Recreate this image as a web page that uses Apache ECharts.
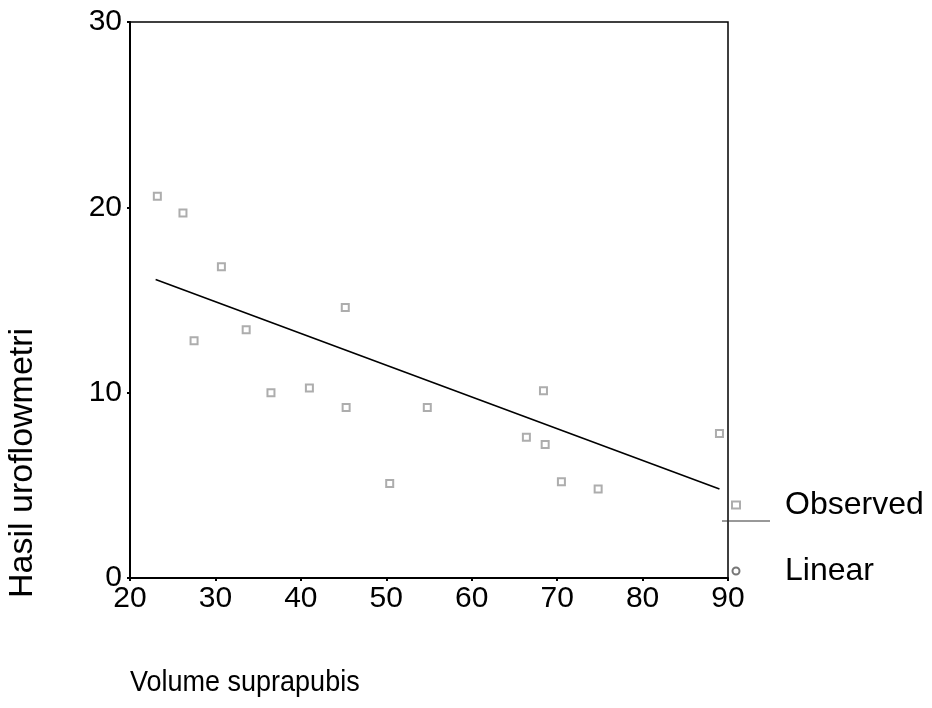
<!DOCTYPE html>
<html>
<head>
<meta charset="utf-8">
<script src="https://cdn.jsdelivr.net/npm/echarts@6/dist/echarts.min.js"></script>
<style>
  html, body { margin: 0; padding: 0; background: #fff; }
  #chart { width: 932px; height: 708px; }
</style>
</head>
<body>
<div id="chart"></div>
<script>
// observed points
const volume = [23.2, 26.2, 30.7, 27.5, 33.6, 36.5, 41.0, 45.2, 45.3, 50.4, 54.8, 66.4, 68.6, 68.4, 70.5, 74.8, 89.0];
const flow   = [20.6, 19.7, 16.8, 12.8, 13.4, 10.0, 10.25, 14.6, 9.2, 5.1, 9.2, 7.6, 7.2, 10.1, 5.2, 4.8, 7.8];

// fitted line ends
const fitX = [23, 89];
const fitY = [16.1, 4.8];

const xTicks = [20, 30, 40, 50, 60, 70, 80, 90];
const yTicks = [0, 10, 20, 30];

const font = 'Liberation Sans, Arial, sans-serif';

const chart = echarts.init(document.getElementById('chart'));

const observed = volume.map((v, i) => [v, flow[i]]);
const linear = fitX.map((v, i) => [v, fitY[i]]);

chart.setOption({
    animation: false,
    backgroundColor: '#fff',
    grid: { left: 130, right: 204, top: 22, bottom: 130 },
    xAxis: {
        type: 'value',
        min: xTicks[0],
        max: xTicks[xTicks.length - 1],
        interval: 10,
        axisLine: { show: true, lineStyle: { color: '#000', width: 2 } },
        axisTick: { show: true, length: 3, lineStyle: { color: '#000', width: 2 } },
        axisLabel: { color: '#000', fontSize: 30, fontFamily: font, margin: 6 },
        splitLine: { show: false }
    },
    yAxis: {
        type: 'value',
        min: yTicks[0],
        max: yTicks[yTicks.length - 1],
        interval: 10,
        axisLine: { show: true, lineStyle: { color: '#000', width: 2 } },
        axisTick: { show: true, length: 3, lineStyle: { color: '#000', width: 2 } },
        axisLabel: { color: '#000', fontSize: 30, fontFamily: font, margin: 8 },
        splitLine: { show: false }
    },
    legend: {
        orient: 'vertical',
        left: 726,
        top: 484,
        itemGap: 34,
        itemWidth: 8,
        itemHeight: 7,
        textStyle: { color: '#000', fontSize: 32, fontFamily: font, padding: [0, 0, 0, 40] },
        data: [
            { name: 'Observed', icon: 'emptyRect', itemStyle: { color: '#999' } },
            { name: 'Linear', icon: 'emptyCircle', itemStyle: { color: '#777' } }
        ]
    },
    graphic: [
        {
            type: 'rect',
            shape: { x: 130, y: 22, width: 598, height: 556 },
            style: { fill: 'none', stroke: '#000', lineWidth: 1.5 },
            silent: true
        },
        {
            type: 'line',
            shape: { x1: 722, y1: 521, x2: 770, y2: 521 },
            style: { stroke: '#333', lineWidth: 1 },
            silent: true
        },
        {
            type: 'text',
            x: 130,
            y: 668,
            scaleX: 0.9,
            style: { text: 'Volume suprapubis', fill: '#000', fontSize: 30, fontFamily: font }
        },
        {
            type: 'text',
            x: 6,
            y: 598,
            rotation: Math.PI / 2,
            style: { text: 'Hasil uroflowmetri', fill: '#000', fontSize: 34, fontFamily: font }
        }
    ],
    series: [
        {
            name: 'Observed',
            type: 'scatter',
            data: observed,
            symbol: 'emptyRect',
            symbolSize: 7,
            itemStyle: { color: '#999', borderWidth: 1 }
        },
        {
            name: 'Linear',
            type: 'line',
            data: linear,
            symbol: 'none',
            lineStyle: { color: '#000', width: 1.6 },
            itemStyle: { color: '#000' }
        }
    ]
});
</script>
</body>
</html>
